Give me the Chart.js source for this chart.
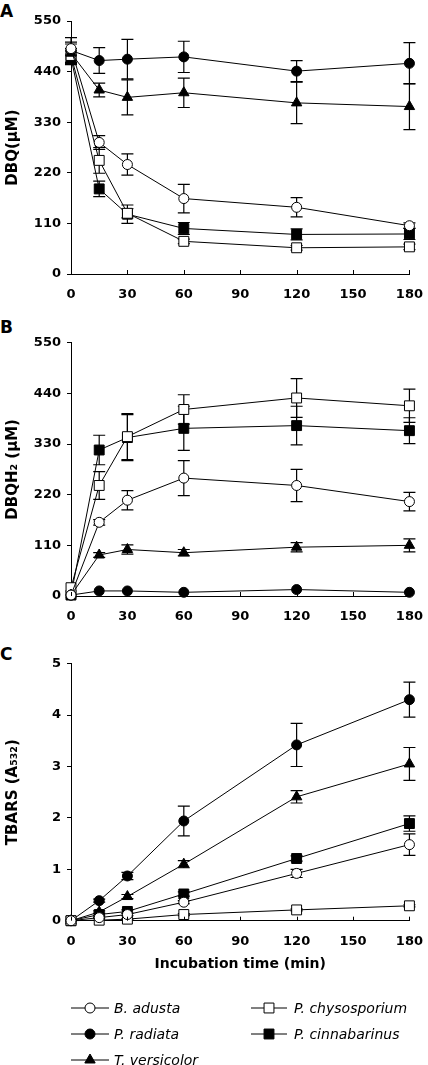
<!DOCTYPE html>
<html>
<head>
<meta charset="utf-8">
<script src="https://cdn.jsdelivr.net/npm/chart.js@4.4.1/dist/chart.umd.min.js"></script>
<style>
  html, body { margin: 0; padding: 0; background: #fff; }
  body { width: 428px; height: 1065px; position: relative; overflow: hidden; }
  .panel { position: absolute; left: 0; }
  .tag { position: absolute; left: 0; font: bold 17px "DejaVu Sans", sans-serif; color: #000; }
</style>
</head>
<body>
<div class="tag" style="top:1px">A</div>
<div class="tag" style="top:317px">B</div>
<div class="tag" style="top:644px">C</div>
<div class="panel" style="top:0"><canvas id="chartA" width="428" height="310"></canvas></div>
<div class="panel" style="top:310px"><canvas id="chartB" width="428" height="320"></canvas></div>
<div class="panel" style="top:620px"><canvas id="chartC" width="428" height="445"></canvas></div>
<script>
// incubation times (min)
const times = [0, 15, 30, 60, 120, 180];
const xTicks = [0, 30, 60, 90, 120, 150, 180];

// panel A: DBQ (uM), mean and error
const dbqAdusta = [490, 286, 238, 164, 145, 105];
const dbqAdustaErr = [14, 15, 23, 31, 21, 6];
const dbqRadiata = [486, 464, 467, 472, 441, 458];
const dbqRadiataErr = [28, 28, 43, 34, 23, 45];
const dbqVersicolor = [480, 400, 384, 394, 372, 364];
const dbqVersicolorErr = [20, 15, 38, 32, 45, 50];
const dbqChryso = [475, 247, 132, 71, 57, 59];
const dbqChrysoErr = [15, 28, 10, 5, 5, 6];
const dbqCinna = [470, 185, 130, 99, 86, 87];
const dbqCinnaErr = [15, 17, 20, 13, 12, 12];

// panel B: DBQH2 (uM)
const dbqh2Adusta = [2, 160, 208, 256, 240, 205];
const dbqh2AdustaErr = [0, 6, 21, 38, 35, 20];
const dbqh2Radiata = [2, 11, 11, 8, 14, 8];
const dbqh2RadiataErr = [0, 0, 0, 0, 0, 0];
const dbqh2Versicolor = [2, 89, 101, 94, 106, 110];
const dbqh2VersicolorErr = [0, 5, 10, 7, 10, 14];
const dbqh2Chryso = [18, 240, 346, 405, 430, 413];
const dbqh2ChrysoErr = [0, 30, 50, 32, 42, 36];
const dbqh2Cinna = [2, 317, 344, 364, 370, 359];
const dbqh2CinnaErr = [0, 32, 50, 48, 42, 28];

// panel C: TBARS (A532)
const tbarsAdusta = [0, 0.06, 0.12, 0.36, 0.92, 1.48];
const tbarsAdustaErr = [0, 0.01, 0.02, 0.03, 0.08, 0.21];
const tbarsRadiata = [0, 0.39, 0.87, 1.94, 3.42, 4.30];
const tbarsRadiataErr = [0, 0.03, 0.07, 0.29, 0.42, 0.34];
const tbarsVersicolor = [0, 0.17, 0.47, 1.10, 2.41, 3.05];
const tbarsVersicolorErr = [0, 0.02, 0.04, 0.07, 0.12, 0.32];
const tbarsChryso = [0, 0.01, 0.03, 0.12, 0.21, 0.29];
const tbarsChrysoErr = [0, 0, 0.01, 0.02, 0.02, 0.02];
const tbarsCinna = [0, 0.12, 0.18, 0.52, 1.21, 1.89];
const tbarsCinnaErr = [0, 0.02, 0.03, 0.04, 0.05, 0.15];

const FONT = '"DejaVu Sans", sans-serif';
Chart.defaults.font.family = FONT;
Chart.defaults.color = '#000';

// marker look per species, legend order = row by row
const species = [
  { name: 'B. adusta',       style: 'circle',   r: 5, fill: '#fff' },
  { name: 'P. chysosporium', style: 'rect',     r: 7, fill: '#fff' },
  { name: 'P. radiata',      style: 'circle',   r: 5, fill: '#000' },
  { name: 'P. cinnabarinus', style: 'rect',     r: 7, fill: '#000' },
  { name: 'T. versicolor',   style: 'triangle', r: 6, fill: '#000' }
];

function series(sp, values, errors) {
  return {
    label: sp.name,
    data: times.map((t, i) => ({ x: t, y: values[i] })),
    errors: errors,
    borderColor: '#000',
    borderWidth: 1,
    tension: 0,
    pointStyle: sp.style,
    pointRadius: sp.r,
    pointHoverRadius: sp.r,
    pointBackgroundColor: sp.fill,
    pointBorderColor: '#000',
    pointBorderWidth: 1,
    clip: false
  };
}

// error bars with caps, drawn under the markers
const errorBars = {
  id: 'errorBars',
  beforeDatasetsDraw(chart) {
    const { ctx, scales: { x, y } } = chart;
    ctx.save();
    ctx.strokeStyle = '#000';
    ctx.lineWidth = 1.2;
    chart.data.datasets.forEach(ds => {
      ds.data.forEach((p, j) => {
        const e = ds.errors[j];
        if (!e) return;
        const px = x.getPixelForValue(p.x);
        const top = y.getPixelForValue(p.y + e);
        const bot = y.getPixelForValue(p.y - e);
        ctx.beginPath();
        ctx.moveTo(px, top); ctx.lineTo(px, bot);
        ctx.moveTo(px - 6, top); ctx.lineTo(px + 6, top);
        ctx.moveTo(px - 6, bot); ctx.lineTo(px + 6, bot);
        ctx.stroke();
      });
    });
    ctx.restore();
  }
};

// x ticks point up into the plot
const innerTicks = {
  id: 'innerTicks',
  afterDraw(chart) {
    const { ctx, scales: { x }, chartArea } = chart;
    ctx.save();
    ctx.strokeStyle = '#000';
    ctx.lineWidth = 1;
    ctx.beginPath();
    x.ticks.forEach(t => {
      const px = Math.round(x.getPixelForValue(t.value)) + 0.5;
      ctx.moveTo(px, chartArea.bottom);
      ctx.lineTo(px, chartArea.bottom - 4);
    });
    ctx.stroke();
    ctx.restore();
  }
};

// two-column legend under panel C
const fungiLegend = {
  id: 'fungiLegend',
  afterDraw(chart) {
    const ctx = chart.ctx;
    const cols = [{ line: [71, 109], text: 114 }, { line: [251, 287], text: 294 }];
    const rows = [388, 414, 440];
    ctx.save();
    ctx.font = 'italic 14px ' + FONT;
    ctx.textBaseline = 'middle';
    chart.data.datasets.forEach((ds, i) => {
      const sp = species.find(s => s.name === ds.label);
      const c = cols[i % 2], yy = rows[Math.floor(i / 2)];
      ctx.strokeStyle = '#000';
      ctx.lineWidth = 1;
      ctx.beginPath();
      ctx.moveTo(c.line[0], yy); ctx.lineTo(c.line[1], yy);
      ctx.stroke();
      ctx.fillStyle = sp.fill;
      Chart.helpers.drawPoint(ctx, { pointStyle: sp.style, radius: sp.r, rotation: 0, borderWidth: 1 },
        (c.line[0] + c.line[1]) / 2, yy);
      ctx.fillStyle = '#000';
      ctx.fillText(ds.label, c.text, yy + 1);
    });
    ctx.restore();
  }
};

function makePanel(id, datasets, opts) {
  return new Chart(document.getElementById(id), {
    type: 'line',
    data: { datasets },
    plugins: [errorBars, innerTicks].concat(opts.extra || []),
    options: {
      responsive: false,
      animation: false,
      events: [],
      layout: { padding: { top: opts.top, right: 13, bottom: opts.bottom || 0, left: 0 } },
      plugins: { legend: { display: false }, tooltip: { enabled: false } },
      scales: {
        x: {
          type: 'linear',
          min: 0, max: 180,
          afterBuildTicks: s => { s.ticks = xTicks.map(v => ({ value: v })); },
          afterFit: s => { s.height = opts.xHeight; },
          grid: { display: false },
          border: { color: '#000', width: 1 },
          ticks: { padding: 5, maxRotation: 0, font: { size: 13, weight: 'bold' } },
          title: opts.xTitle
            ? { display: true, text: opts.xTitle, font: { size: 14, weight: 'bold' }, padding: { top: 0, bottom: 3 } }
            : { display: false }
        },
        y: {
          min: 0, max: opts.yMax,
          ticks: { stepSize: opts.yStep, padding: 6, font: { size: 13, weight: 'bold' } },
          afterFit: s => { s.width = 71; },
          grid: { drawOnChartArea: false, tickLength: 4, color: '#000' },
          border: { color: '#000', width: 1 },
          title: { display: true, text: opts.yTitle, font: { size: 15, weight: 'bold' }, padding: { top: 4, bottom: 0 } }
        }
      }
    }
  });
}

makePanel('chartA', [
  series(species[0], dbqAdusta, dbqAdustaErr),
  series(species[2], dbqRadiata, dbqRadiataErr),
  series(species[4], dbqVersicolor, dbqVersicolorErr),
  series(species[1], dbqChryso, dbqChrysoErr),
  series(species[3], dbqCinna, dbqCinnaErr)
], { top: 21, xHeight: 36, yMax: 550, yStep: 110, yTitle: 'DBQ(μM)' });

makePanel('chartB', [
  series(species[0], dbqh2Adusta, dbqh2AdustaErr),
  series(species[2], dbqh2Radiata, dbqh2RadiataErr),
  series(species[4], dbqh2Versicolor, dbqh2VersicolorErr),
  series(species[1], dbqh2Chryso, dbqh2ChrysoErr),
  series(species[3], dbqh2Cinna, dbqh2CinnaErr)
], { top: 32.7, xHeight: 34, yMax: 550, yStep: 110, yTitle: 'DBQH₂ (μM)' });

makePanel('chartC', [
  series(species[0], tbarsAdusta, tbarsAdustaErr),
  series(species[1], tbarsChryso, tbarsChrysoErr),
  series(species[2], tbarsRadiata, tbarsRadiataErr),
  series(species[3], tbarsCinna, tbarsCinnaErr),
  series(species[4], tbarsVersicolor, tbarsVersicolorErr)
], { top: 43.7, bottom: 89.3, xHeight: 55, yMax: 5, yStep: 1, yTitle: 'TBARS (A₅₃₂)',
     xTitle: 'Incubation time (min)', extra: [fungiLegend] });
</script>
</body>
</html>
